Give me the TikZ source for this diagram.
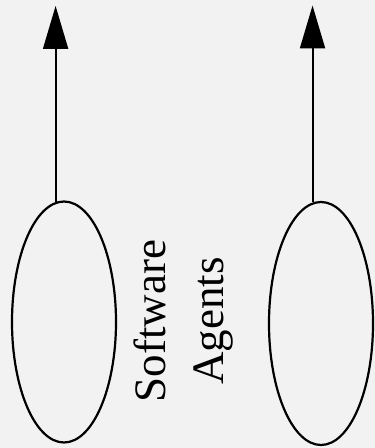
\documentclass[tikz,border=0pt]{standalone}
\usepackage{fontspec}
\setmainfont{Liberation Serif}
\usetikzlibrary{arrows.meta,positioning,shapes.geometric,backgrounds}
\definecolor{paper}{HTML}{F2F2F2}
\tikzset{
  agent/.style={draw, ellipse, line width=2.2pt, inner sep=0pt,
    minimum width=104pt, minimum height=241pt},
  flow/.style={-{Triangle[length=43pt, width=25pt]}, line width=2pt},
  lab/.style={font=\fontsize{45}{58}\selectfont, align=center, rotate=90},
}

\begin{document}
\begin{tikzpicture}[x=1pt, y=1pt]
\begin{scope}[on background layer]
  \fill[paper] (0,0) rectangle (375,448);
\end{scope}
\useasboundingbox (0,0) rectangle (375,448);

% The two agents, each sending its output upward.
\node[agent] (leftagent) at (64, 126) {};
\node[agent, minimum height=243pt] (rightagent) at (321, 124.5) {};
\coordinate[above=196pt of leftagent.94] (lefttip);
\coordinate[above=197pt of rightagent.94] (righttip);
\draw[flow] (leftagent.94) -- (lefttip);
\draw[flow] (rightagent.94) -- (righttip);

\node[lab] (agentlab) at (184, 127) {Software\\Agents};

\end{tikzpicture}
\end{document}
